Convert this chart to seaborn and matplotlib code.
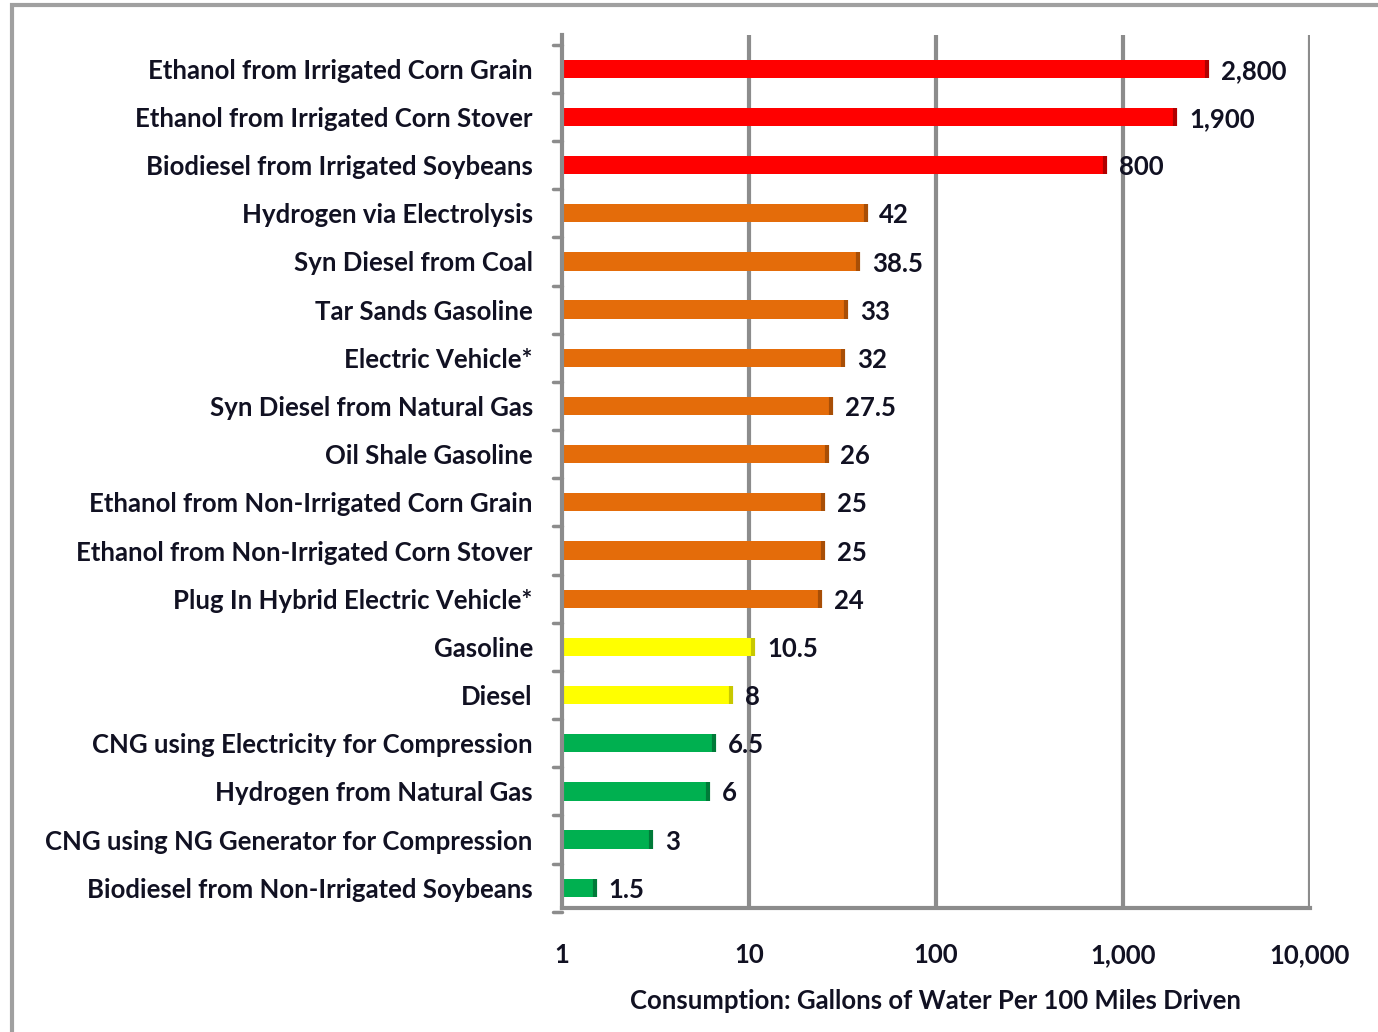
import numpy as np
import pandas as pd
import seaborn as sns
import matplotlib.pyplot as plt
from matplotlib.patches import Rectangle

# fuel pathways, top to bottom
fuels = [
    "Ethanol from Irrigated Corn Grain",
    "Ethanol from Irrigated Corn Stover",
    "Biodiesel from Irrigated Soybeans",
    "Hydrogen via Electrolysis",
    "Syn Diesel from Coal",
    "Tar Sands Gasoline",
    "Electric Vehicle*",
    "Syn Diesel from Natural Gas",
    "Oil Shale Gasoline",
    "Ethanol from Non-Irrigated Corn Grain",
    "Ethanol from Non-Irrigated Corn Stover",
    "Plug In Hybrid Electric Vehicle*",
    "Gasoline",
    "Diesel",
    "CNG using Electricity for Compression",
    "Hydrogen from Natural Gas",
    "CNG using NG Generator for Compression",
    "Biodiesel from Non-Irrigated Soybeans",
]
gallons = [2800, 1900, 800, 42, 38.5, 33, 32, 27.5, 26, 25, 25, 24,
           10.5, 8, 6.5, 6, 3, 1.5]
value_labels = ["2,800", "1,900", "800", "42", "38.5", "33", "32", "27.5", "26",
                "25", "25", "24", "10.5", "8", "6.5", "6", "3", "1.5"]
groups = ["high"] * 3 + ["mid"] * 9 + ["petro"] * 2 + ["low"] * 4
group_colors = {"high": "#FF0000", "mid": "#E46C0A", "petro": "#FFFF00", "low": "#00B050"}
edge_colors = {"high": "#B00000", "mid": "#A84E06", "petro": "#C8C800", "low": "#007A38"}
tick_vals = [1, 10, 100, 1000, 10000]
tick_labels = ["1", "10", "100", "1,000", "10,000"]

df = pd.DataFrame({"fuel": fuels, "gallons": gallons, "group": groups})

sns.set_style("white")
plt.rcParams["font.family"] = ["Lato", "DejaVu Sans"]
txt = "#111122"
grid_gray = "#8C8C8C"
fs = 18.5

fig = plt.figure(figsize=(13.78, 10.32), dpi=100)
ax = fig.add_axes([562 / 1378, 1 - 908 / 1032, 748 / 1378, 873 / 1032])

sns.barplot(data=df, x="gallons", y="fuel", hue="group", palette=group_colors,
            orient="h", width=0.38, dodge=False, legend=False,
            saturation=1, ax=ax, errorbar=None, zorder=2)
ax.set_xscale("log")

for bar in ax.patches:
    bar.set_edgecolor("none")
# darker right edge like the 3D bars
for i, g in enumerate(groups):
    ax.plot([gallons[i], gallons[i]], [i - 0.19, i + 0.19], color=edge_colors[g],
            lw=3, solid_capstyle="butt", zorder=3)

ax.set_xlim(1, 10000)
ax.set_ylim(17.42, -0.7)
ax.set_xticks(tick_vals)
ax.set_xticklabels(tick_labels)
ax.xaxis.set_minor_locator(plt.NullLocator())

for v in tick_vals[1:]:
    ax.axvline(v, color=grid_gray, lw=3, zorder=0)

for s in ["top", "right"]:
    ax.spines[s].set_visible(False)
for s in ["left", "bottom"]:
    ax.spines[s].set_color(grid_gray)
    ax.spines[s].set_linewidth(3)

ax.set_yticks(np.arange(len(fuels)))
ax.set_yticklabels(fuels, fontsize=fs, fontweight="bold", color=txt)
ax.tick_params(axis="y", length=0, pad=21)
# category separators on the y axis
for k in np.arange(-0.5, len(fuels), 1.0):
    ax.plot([-0.012, 0], [k, k], transform=ax.get_yaxis_transform(), color=grid_gray,
            lw=2.5, clip_on=False)
ax.tick_params(axis="x", length=8, width=2.5, color=grid_gray, direction="out",
               labelsize=fs, labelcolor=txt, pad=17)
for lab in ax.get_xticklabels():
    lab.set_fontweight("bold")

ax.set_ylabel("")
ax.set_xlabel("Consumption: Gallons of Water Per 100 Miles Driven", fontsize=fs,
              fontweight="bold", color=txt, labelpad=16)

for i, (v, lab) in enumerate(zip(gallons, value_labels)):
    ax.annotate(lab, (v, i), xytext=(10, -1.5), textcoords="offset points",
                ha="left", va="center", fontsize=fs, fontweight="bold", color=txt)

# figure frame
fig.patches.append(Rectangle((12 / 1378, -0.1), 1.2, 1.1 - 5 / 1032, fill=False,
                             edgecolor="#A0A0A0", lw=3, transform=fig.transFigure))

fig.savefig("out.png", dpi=100)
